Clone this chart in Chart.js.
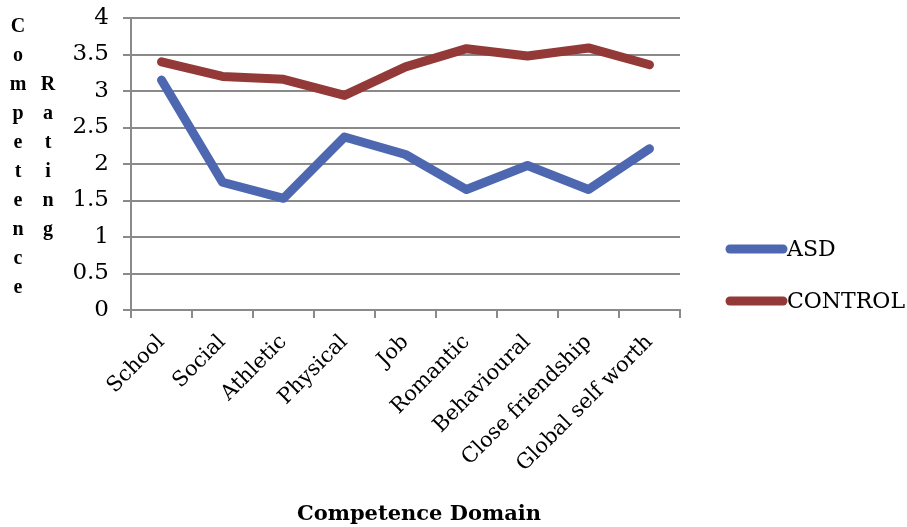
<!DOCTYPE html>
<html>
<head>
<meta charset="utf-8">
<script src="https://cdn.jsdelivr.net/npm/chart.js@4"></script>
<style>
  html, body { margin: 0; padding: 0; background: #fff; }
  #wrap { width: 907px; height: 527px; }
</style>
</head>
<body>
<div id="wrap"><canvas id="myChart"></canvas></div>
<script>
// dati
var domains = ['School', 'Social', 'Athletic', 'Physical', 'Job', 'Romantic', 'Behavioural', 'Close friendship', 'Global self worth'];
var asdValues = [3.15, 1.75, 1.53, 2.37, 2.13, 1.65, 1.98, 1.65, 2.21];
var controlValues = [3.40, 3.20, 3.16, 2.94, 3.33, 3.58, 3.48, 3.59, 3.36];
var seriesNames = ['ASD', 'CONTROL'];
var seriesColors = ['#4d67b0', '#933a38'];
var yTitleLeft = 'Competence';
var yTitleRight = 'Rating';
var xTitle = 'Competence Domain';

var serif = "'DejaVu Serif', 'Liberation Serif', serif";
var serifNarrow = "'Liberation Serif', 'DejaVu Serif', serif";

// titoli assi + legenda a destra
var extraDraw = {
  id: 'extraDraw',
  afterDraw: function (chart) {
    var ctx = chart.ctx;
    ctx.save();
    ctx.fillStyle = '#000';

    // titolo y: lettere impilate su due colonne
    ctx.font = 'bold 20px ' + serifNarrow;
    ctx.textAlign = 'center';
    ctx.textBaseline = 'alphabetic';
    for (var i = 0; i < yTitleLeft.length; i++) {
      ctx.fillText(yTitleLeft[i], 18, 32 + i * 29);
    }
    for (var j = 0; j < yTitleRight.length; j++) {
      ctx.fillText(yTitleRight[j], 48, 32 + (j + 2) * 29);
    }

    // titolo x
    ctx.font = 'bold 21px ' + serif;
    ctx.fillText(xTitle, 419, 520);

    // legenda
    ctx.font = '22px ' + serif;
    ctx.textAlign = 'left';
    ctx.textBaseline = 'middle';
    chart.data.datasets.forEach(function (ds, k) {
      var y = 249 + k * 52;
      ctx.strokeStyle = ds.borderColor;
      ctx.lineWidth = 9;
      ctx.lineCap = 'round';
      ctx.beginPath();
      ctx.moveTo(730, y);
      ctx.lineTo(783, y);
      ctx.stroke();
      ctx.fillStyle = '#000';
      ctx.fillText(ds.label, 787, y + 1);
    });
    ctx.restore();
  }
};

new Chart('myChart', {
  type: 'line',
  data: {
    labels: domains,
    datasets: [{
      label: seriesNames[0],
      data: asdValues,
      borderColor: seriesColors[0],
      backgroundColor: seriesColors[0],
      borderWidth: 9,
      borderCapStyle: 'round',
      borderJoinStyle: 'round',
      pointRadius: 0,
      fill: false
    }, {
      label: seriesNames[1],
      data: controlValues,
      borderColor: seriesColors[1],
      backgroundColor: seriesColors[1],
      borderWidth: 9,
      borderCapStyle: 'round',
      borderJoinStyle: 'round',
      pointRadius: 0,
      fill: false
    }]
  },
  options: {
    responsive: true,
    maintainAspectRatio: false,
    animation: false,
    layout: { padding: { top: 18, right: 227, left: 0, bottom: 0 } },
    plugins: {
      legend: { display: false },
      tooltip: { enabled: false }
    },
    scales: {
      x: {
        offset: true,
        grid: { display: true, drawOnChartArea: false, color: '#8a8a8a', lineWidth: 2, tickLength: 8, offset: true },
        border: { display: true, color: '#8a8a8a', width: 2 },
        ticks: {
          color: '#000',
          font: { family: serif, size: 21 },
          maxRotation: 45,
          minRotation: 45,
          autoSkip: false,
          padding: 12
        },
        afterFit: function (s) { s.height = 217; s.paddingLeft = 0; s.paddingRight = 0; }
      },
      y: {
        min: 0,
        max: 4,
        ticks: {
          stepSize: 0.5,
          color: '#000',
          font: { family: serif, size: 23 },
          padding: 14,
          callback: function (v) { return String(v); }
        },
        grid: { color: '#8a8a8a', lineWidth: 2, tickLength: 8 },
        border: { display: true, color: '#8a8a8a', width: 2 },
        afterFit: function (s) { s.width = 131; s.paddingTop = 0; s.paddingBottom = 0; }
      }
    }
  },
  plugins: [extraDraw]
});
</script>
</body>
</html>
